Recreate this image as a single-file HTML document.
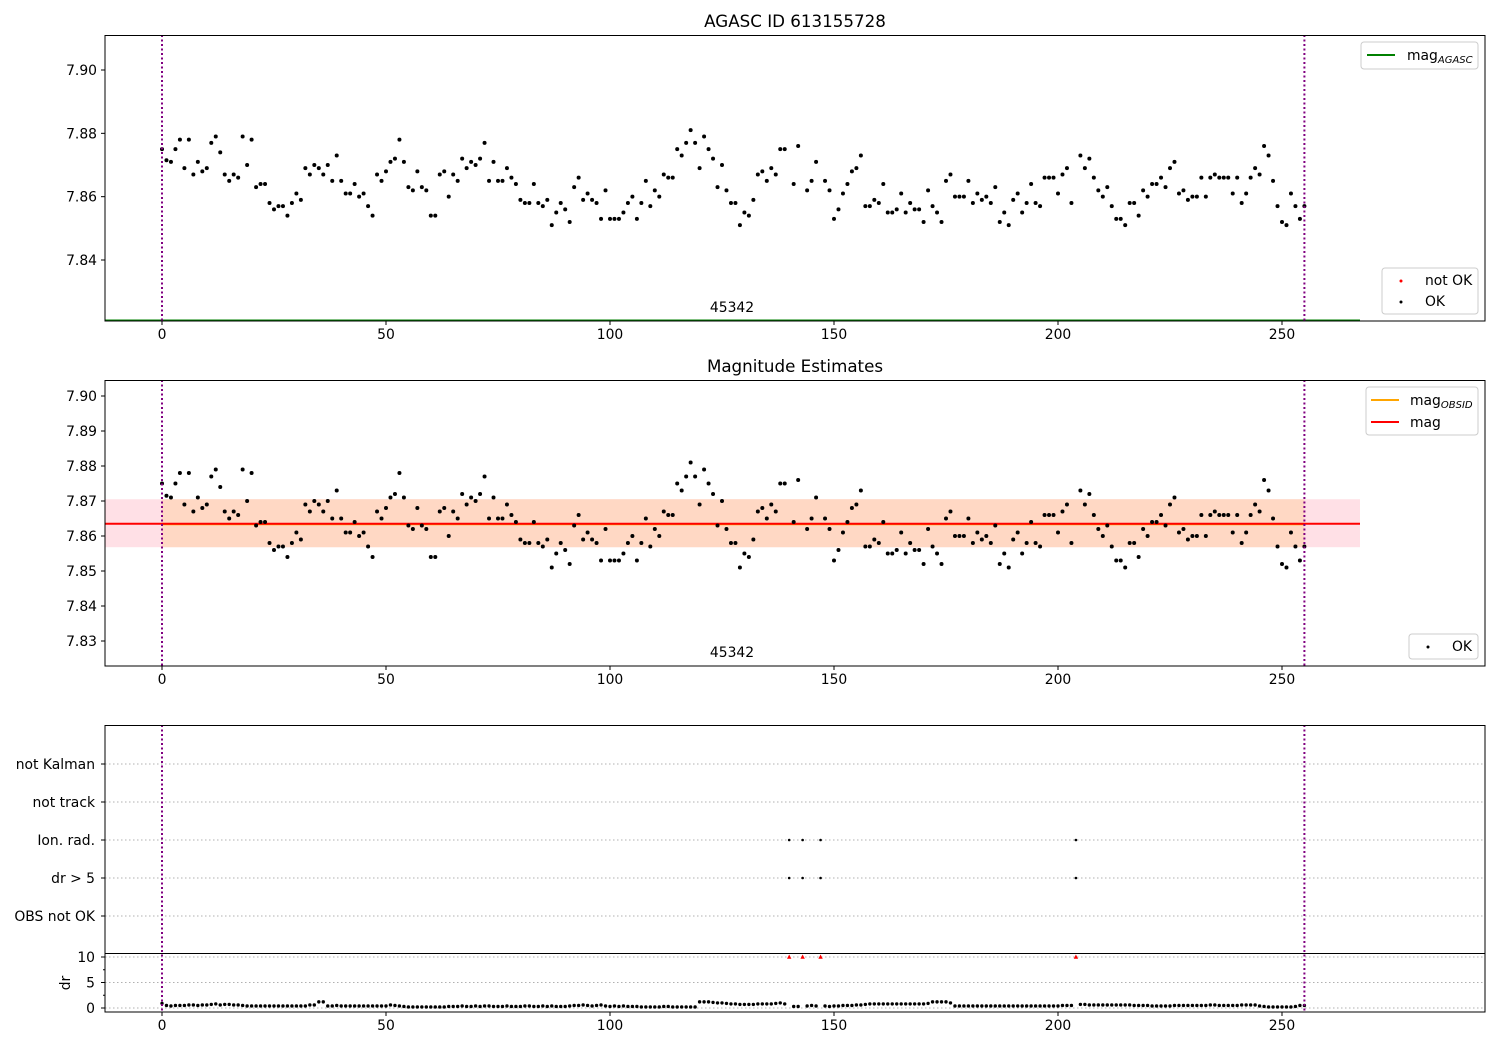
<!DOCTYPE html>
<html><head><meta charset="utf-8">
<style>
html,body{margin:0;padding:0;background:#fff;}
svg{display:block;font-family:"DejaVu Sans","Liberation Sans",sans-serif;}
</style></head>
<body>
<svg id="chart" width="1500" height="1050" viewBox="0 0 1500 1050" xmlns="http://www.w3.org/2000/svg">
<defs><clipPath id="c1"><rect x="105" y="35" width="1380" height="286"/></clipPath></defs>
<rect width="1500" height="1050" fill="#fff"/>
<g id="layer"></g>
</svg>
<script>
const magValues = [
7.875,7.8715,7.871,7.875,7.878,7.869,7.878,7.867,7.871,7.868,
7.869,7.877,7.879,7.874,7.867,7.865,7.867,7.866,7.879,7.870,
7.878,7.863,7.864,7.864,7.858,7.856,7.857,7.857,7.854,7.858,
7.861,7.859,7.869,7.867,7.870,7.869,7.867,7.870,7.865,7.873,
7.865,7.861,7.861,7.864,7.860,7.861,7.857,7.854,7.867,7.865,
7.868,7.871,7.872,7.878,7.871,7.863,7.862,7.868,7.863,7.862,
7.854,7.854,7.867,7.868,7.860,7.867,7.865,7.872,7.869,7.871,
7.870,7.872,7.877,7.865,7.871,7.865,7.865,7.869,7.866,7.864,
7.859,7.858,7.858,7.864,7.858,7.857,7.859,7.851,7.855,7.858,
7.856,7.852,7.863,7.866,7.859,7.861,7.859,7.858,7.853,7.862,
7.853,7.853,7.853,7.855,7.858,7.860,7.853,7.858,7.865,7.857,
7.862,7.860,7.867,7.866,7.866,7.875,7.873,7.877,7.881,7.877,
7.869,7.879,7.875,7.872,7.863,7.870,7.862,7.858,7.858,7.851,
7.855,7.854,7.859,7.867,7.868,7.865,7.869,7.867,7.875,7.875,
null,7.864,7.876,null,7.862,7.865,7.871,null,7.865,7.862,
7.853,7.856,7.861,7.864,7.868,7.869,7.873,7.857,7.857,7.859,
7.858,7.864,7.855,7.855,7.856,7.861,7.855,7.858,7.856,7.856,
7.852,7.862,7.857,7.855,7.852,7.865,7.867,7.860,7.860,7.860,
7.865,7.858,7.861,7.859,7.860,7.858,7.863,7.852,7.855,7.851,
7.859,7.861,7.855,7.858,7.864,7.858,7.857,7.866,7.866,7.866,
7.861,7.867,7.869,7.858,null,7.873,7.869,7.872,7.866,7.862,
7.860,7.863,7.857,7.853,7.853,7.851,7.858,7.858,7.854,7.862,
7.860,7.864,7.864,7.866,7.863,7.869,7.871,7.861,7.862,7.859,
7.860,7.860,7.866,7.860,7.866,7.867,7.866,7.866,7.866,7.861,
7.866,7.858,7.861,7.866,7.869,7.867,7.876,7.873,7.865,7.857,
7.852,7.851,7.861,7.857,7.853,7.857];
const drValues = [
0.9,0.5,0.4,0.5,0.5,0.5,0.6,0.6,0.5,0.6,
0.6,0.7,0.8,0.6,0.7,0.7,0.6,0.6,0.5,0.4,
0.4,0.4,0.4,0.4,0.4,0.4,0.4,0.4,0.4,0.4,
0.4,0.4,0.4,0.6,0.6,1.2,1.2,0.4,0.4,0.5,
0.4,0.4,0.4,0.4,0.4,0.4,0.4,0.4,0.4,0.4,
0.4,0.6,0.5,0.4,0.3,0.2,0.2,0.2,0.2,0.2,
0.2,0.2,0.2,0.2,0.3,0.3,0.3,0.4,0.3,0.3,
0.4,0.3,0.4,0.4,0.3,0.3,0.3,0.4,0.3,0.3,
0.3,0.4,0.4,0.3,0.3,0.4,0.3,0.4,0.3,0.3,
0.3,0.4,0.5,0.5,0.6,0.5,0.4,0.5,0.6,0.4,
0.3,0.4,0.3,0.4,0.3,0.3,0.3,0.2,0.2,0.2,
0.2,0.2,0.3,0.3,0.2,0.2,0.2,0.2,0.2,0.2,
1.2,1.2,1.2,1.1,1.0,1.0,0.9,0.8,0.8,0.7,
0.7,0.7,0.7,0.8,0.8,0.8,0.8,0.9,1.0,0.8,
10,0.3,0.3,10,0.4,0.5,0.4,10,0.4,0.3,
0.4,0.4,0.5,0.5,0.5,0.6,0.6,0.7,0.8,0.8,
0.8,0.8,0.8,0.8,0.8,0.8,0.8,0.8,0.8,0.8,
0.8,0.9,1.2,1.2,1.2,1.2,1.0,0.4,0.4,0.4,
0.4,0.4,0.4,0.4,0.4,0.4,0.4,0.4,0.4,0.4,
0.4,0.4,0.4,0.4,0.4,0.4,0.4,0.4,0.4,0.4,
0.4,0.5,0.5,0.5,10,0.7,0.7,0.6,0.6,0.6,
0.6,0.6,0.6,0.6,0.6,0.6,0.6,0.5,0.5,0.5,
0.5,0.4,0.4,0.4,0.4,0.4,0.5,0.5,0.5,0.5,
0.5,0.5,0.5,0.5,0.6,0.6,0.5,0.5,0.5,0.5,
0.5,0.6,0.6,0.6,0.6,0.4,0.3,0.2,0.2,0.2,
0.2,0.2,0.2,0.3,0.5,0.5];
const flaggedIdx = [140,143,147,204];
const flagCategories = ["not Kalman","not track","Ion. rad.","dr > 5","OBS not OK"];
const xTicks = [0,50,100,150,200,250];
const topYTicks = [7.84,7.86,7.88,7.90];
const midYTicks = [7.83,7.84,7.85,7.86,7.87,7.88,7.89,7.90];
const drTicks = [0,5,10];
const magMean = [7.8635];
const magBand = [7.8568, 7.8705];
const obsLimits = [0,255];
const obsidLabel = ["45342"];

const FS=13.9, TFS=16.7;
const NS="http://www.w3.org/2000/svg";
const layer=document.getElementById('layer');
function el(tag,attrs,parent,text){const e=document.createElementNS(NS,tag);for(const k in attrs)e.setAttribute(k,attrs[k]);if(text!==undefined)e.textContent=text;(parent||layer).appendChild(e);return e;}
const sx=v=>162+4.48*v;
const ty=v=>70+(7.90-v)*3166.7;
const my=v=>396+(7.90-v)*3500;
const dy=v=>1008-5.1*v;
const catY=i=>764+38*i;
const L=105,R=1485;

function xAxis(bottom,name){
  const g=el('g',{});
  
  
  xTicks.forEach(t=>{
    el('line',{x1:sx(t),x2:sx(t),y1:bottom,y2:bottom+4,stroke:'#000','stroke-width':1},g);
    el('text',{x:sx(t),y:bottom+18,'font-size':FS,'text-anchor':'middle'},g,String(t));
  });
}
function yTicksFn(ticks,fy,name,dec){
  const g=el('g',{});
  
  
  ticks.forEach(t=>{
    el('line',{x1:L-4,x2:L,y1:fy(t),y2:fy(t),stroke:'#000'},g);
    el('text',{x:L-8,y:fy(t)+5,'font-size':FS,'text-anchor':'end'},g,t.toFixed(dec));
  });
}
function vlines(top,bottom){
  obsLimits.forEach(v=>{
    const l=el('line',{x1:sx(v),x2:sx(v),y1:top,y2:bottom,stroke:'#800080','stroke-width':2,'stroke-dasharray':'2,2.5'});
    
    
  });
}

// ---------- TOP PANEL ----------
const t1=el('text',{x:795,y:27,'font-size':TFS,'text-anchor':'middle'},layer,'AGASC ID 613155728');


const gTop=el('g',{'clip-path':'url(#c1)'});


magValues.forEach((v,i)=>{
  if(v===null)return;
  const c=el('circle',{cx:sx(i),cy:ty(v),r:2,fill:'#000'},gTop);
  
  
});
const agl=el('line',{x1:L,x2:1360,y1:320.5,y2:320.5,stroke:'#008000','stroke-width':2});


vlines(35,321);
const ob1=el('text',{x:732,y:312,'font-size':FS,'text-anchor':'middle'},layer,obsidLabel[0]);


el('rect',{x:L,y:35.5,width:R-L,height:285.5,fill:'none',stroke:'#000','stroke-width':1});
yTicksFn(topYTicks,ty,'top-y-axis',2);
xAxis(321,'top-x-axis');
const lg1=el('g',{});


el('rect',{x:1361,y:42,width:117,height:27,rx:3,fill:'#fff',stroke:'#ccc'},lg1);
el('line',{x1:1367,x2:1395,y1:55,y2:55,stroke:'#008000','stroke-width':2},lg1);
const tt=el('text',{x:1407,y:60,'font-size':FS},lg1,'mag');
el('tspan',{'font-size':10,'font-style':'italic',dy:3},tt,'AGASC');
const lg2=el('g',{});


el('rect',{x:1382,y:268,width:96,height:46,rx:3,fill:'#fff',stroke:'#ccc'},lg2);
el('circle',{cx:1401,cy:281,r:1.5,fill:'#f00'},lg2);
el('text',{x:1425,y:285,'font-size':FS},lg2,'not OK');
el('circle',{cx:1401,cy:302,r:1.5,fill:'#000'},lg2);
el('text',{x:1425,y:306,'font-size':FS},lg2,'OK');

// ---------- MIDDLE PANEL ----------
const t2=el('text',{x:795,y:372,'font-size':TFS,'text-anchor':'middle'},layer,'Magnitude Estimates');


const b1=el('rect',{x:L,y:my(magBand[1]),width:1360-L,height:my(magBand[0])-my(magBand[1]),fill:'#ffe0e6'});


const b2=el('rect',{x:sx(obsLimits[0]),y:my(magBand[1]),width:sx(obsLimits[1])-sx(obsLimits[0]),height:my(magBand[0])-my(magBand[1]),fill:'#ffd8c4'});


const ol=el('line',{x1:sx(obsLimits[0]),x2:sx(obsLimits[1]),y1:my(magMean[0])+0.5,y2:my(magMean[0])+0.5,stroke:'#ffa500','stroke-width':2});


const rl=el('line',{x1:L,x2:1360,y1:my(magMean[0]),y2:my(magMean[0]),stroke:'#f00','stroke-width':2});


magValues.forEach((v,i)=>{
  if(v===null)return;
  const c=el('circle',{cx:sx(i),cy:my(v),r:2,fill:'#000'});
  
  
});
vlines(380,666);
const ob2=el('text',{x:732,y:657,'font-size':FS,'text-anchor':'middle'},layer,obsidLabel[0]);


el('rect',{x:L,y:380.5,width:R-L,height:285.5,fill:'none',stroke:'#000'});
yTicksFn(midYTicks,my,'middle-y-axis',2);
xAxis(666,'middle-x-axis');
const lg3=el('g',{});


el('rect',{x:1366,y:387,width:112,height:48,rx:3,fill:'#fff',stroke:'#ccc'},lg3);
el('line',{x1:1371,x2:1399,y1:400,y2:400,stroke:'#ffa500','stroke-width':2},lg3);
const t3=el('text',{x:1410,y:405,'font-size':FS},lg3,'mag');
el('tspan',{'font-size':10,'font-style':'italic',dy:3},t3,'OBSID');
el('line',{x1:1371,x2:1399,y1:422,y2:422,stroke:'#f00','stroke-width':2},lg3);
el('text',{x:1410,y:427,'font-size':FS},lg3,'mag');
const lg4=el('g',{});


el('rect',{x:1409,y:634,width:69,height:25,rx:3,fill:'#fff',stroke:'#ccc'},lg4);
el('circle',{cx:1428,cy:647,r:1.5,fill:'#000'},lg4);
el('text',{x:1452,y:651,'font-size':FS},lg4,'OK');

// ---------- BOTTOM PANEL ----------
flagCategories.forEach((c,i)=>{
  el('line',{x1:L,x2:R,y1:catY(i),y2:catY(i),stroke:'#b0b0b0','stroke-dasharray':'1.5,2.5'});
  el('line',{x1:L-4,x2:L,y1:catY(i),y2:catY(i),stroke:'#000'});
  const t=el('text',{x:L-10,y:catY(i)+5,'font-size':FS,'text-anchor':'end'},layer,c);
  
  
});
drTicks.forEach(t=>{
  el('line',{x1:L,x2:R,y1:dy(t),y2:dy(t),stroke:'#b0b0b0','stroke-dasharray':'1.5,2.5'});
  el('line',{x1:L-4,x2:L,y1:dy(t),y2:dy(t),stroke:'#000'});
  el('text',{x:L-10,y:dy(t)+5,'font-size':FS,'text-anchor':'end'},layer,String(t));
});
[2.5,7.5].forEach(t=>el('line',{x1:L-2,x2:L,y1:dy(t),y2:dy(t),stroke:'#000'}));
const drl=el('text',{x:70,y:983,'font-size':FS,'text-anchor':'middle',transform:'rotate(-90 70 983)'},layer,'dr');


flaggedIdx.forEach(i=>{
  [2,3].forEach(k=>{
    const c=el('circle',{cx:sx(i),cy:catY(k),r:1.3,fill:'#000'});
    
    
  });
});
drValues.forEach((v,i)=>{
  if(flaggedIdx.includes(i)){
    const x=sx(i),y=dy(Math.min(v,10));
    const p=el('path',{d:`M${x},${y-2.5} L${x+2.2},${y+1.8} L${x-2.2},${y+1.8} Z`,fill:'#f00'});
    
    
  } else {
    const c=el('circle',{cx:sx(i),cy:dy(v),r:1.7,fill:'#000'});
    
    
  }
});
vlines(725,1012);
el('line',{x1:L,x2:R,y1:953.5,y2:953.5,stroke:'#000'});
el('rect',{x:L,y:725.5,width:R-L,height:286.5,fill:'none',stroke:'#000'});
xAxis(1012,'bottom-x-axis');
</script>
</body></html>
